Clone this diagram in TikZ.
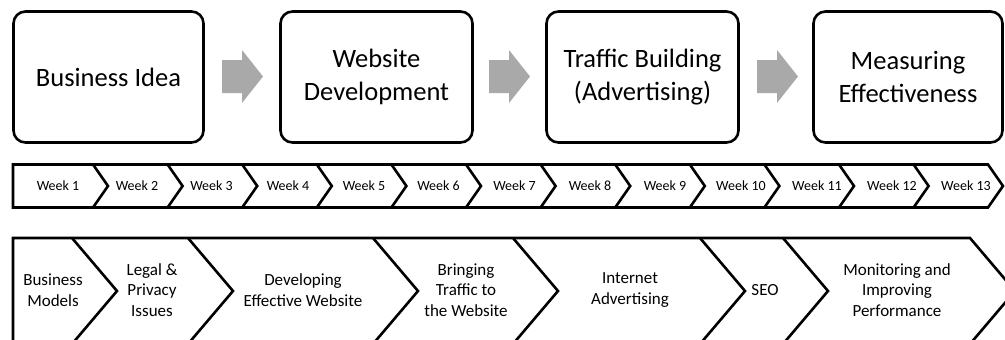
\documentclass[tikz,border=0pt]{standalone}
\usepackage{fontspec}
\setmainfont{Carlito}
\usetikzlibrary{calc}
\definecolor{arrowgray}{HTML}{A9A9A9}
\begin{document}
\begin{tikzpicture}[x=1pt,y=-1pt,
  stagebox/.style={draw, line width=2.6pt, rounded corners=12pt, inner sep=0pt,
    minimum height=131pt, font=\fontsize{26.5}{32.5}\selectfont, align=center},
  weeklabel/.style={font=\fontsize{14}{16}\selectfont, inner sep=0pt},
  topiclabel/.style={font=\fontsize{17}{20.6}\selectfont, align=center, inner sep=0pt},
  chev/.style={line width=2.6pt, line join=miter},
  stagearrow/.style={fill=arrowgray},
]
\useasboundingbox (0,0) rectangle (1005,340);
\clip (0,0) rectangle (1005,340);

% stage boxes
\node[stagebox, minimum width=190pt] (b1) at (108.5,77) {Business Idea};
\node[stagebox, minimum width=192pt] (b2) at (376.5,77) {Website\\Development};
\node[stagebox, minimum width=192pt] (b3) at (642.5,77) {Traffic Building\\(Advertising)};
\node[stagebox, minimum width=189pt] (b4) at (908,77) {Measuring\\Effectiveness};

% gray block arrows between the stages
\foreach \s in {222,489,757}
  \fill[stagearrow] (\s,60) -- ++(20,0) -- ++(0,-10) -- ++(21,26.5)
     -- ++(-21,26.5) -- ++(0,-10) -- ++(-20,0) -- cycle;

% week row
\draw[chev] (13,164.5) -- (988,164.5) -- (1003,186) -- (988,207.5) -- (13,207.5) -- cycle;
\foreach \i in {1,...,12} {
  \pgfmathsetmacro\t{108+74.6*(\i-1)}
  \draw[chev] (\t-15,164.5) -- (\t,186) -- (\t-15,207.5);
}
\foreach \c [count=\i] in {58,137,211.5,288,364,438.5,514.5,590,665,741,817,892,966}
  \node[weeklabel] (w\i) at (\c,186) {Week \i};

% topic row
\draw[chev] (13,238) -- (970,238) -- (1015,291) -- (970,344) -- (13,344) -- cycle;
\foreach \a in {72,188,373,513,700,783}
  \draw[chev] (\a,238) -- (\a+45,291) -- (\a,344);

\node[topiclabel] (t1) at (53,290) {Business\\Models};
\node[topiclabel] (t2) at (152,290) {Legal \&\\Privacy\\Issues};
\node[topiclabel] (t3) at (303,290) {Developing\\Effective Website};
\node[topiclabel] (t4) at (466,290) {Bringing\\Traffic to\\the Website};
\node[topiclabel] (t5) at (630,290) {Internet\\Advertising};
\node[topiclabel] (t6) at (765,290) {SEO};
\node[topiclabel] (t7) at (897,290) {Monitoring and\\Improving\\Performance};
\end{tikzpicture}
\end{document}
